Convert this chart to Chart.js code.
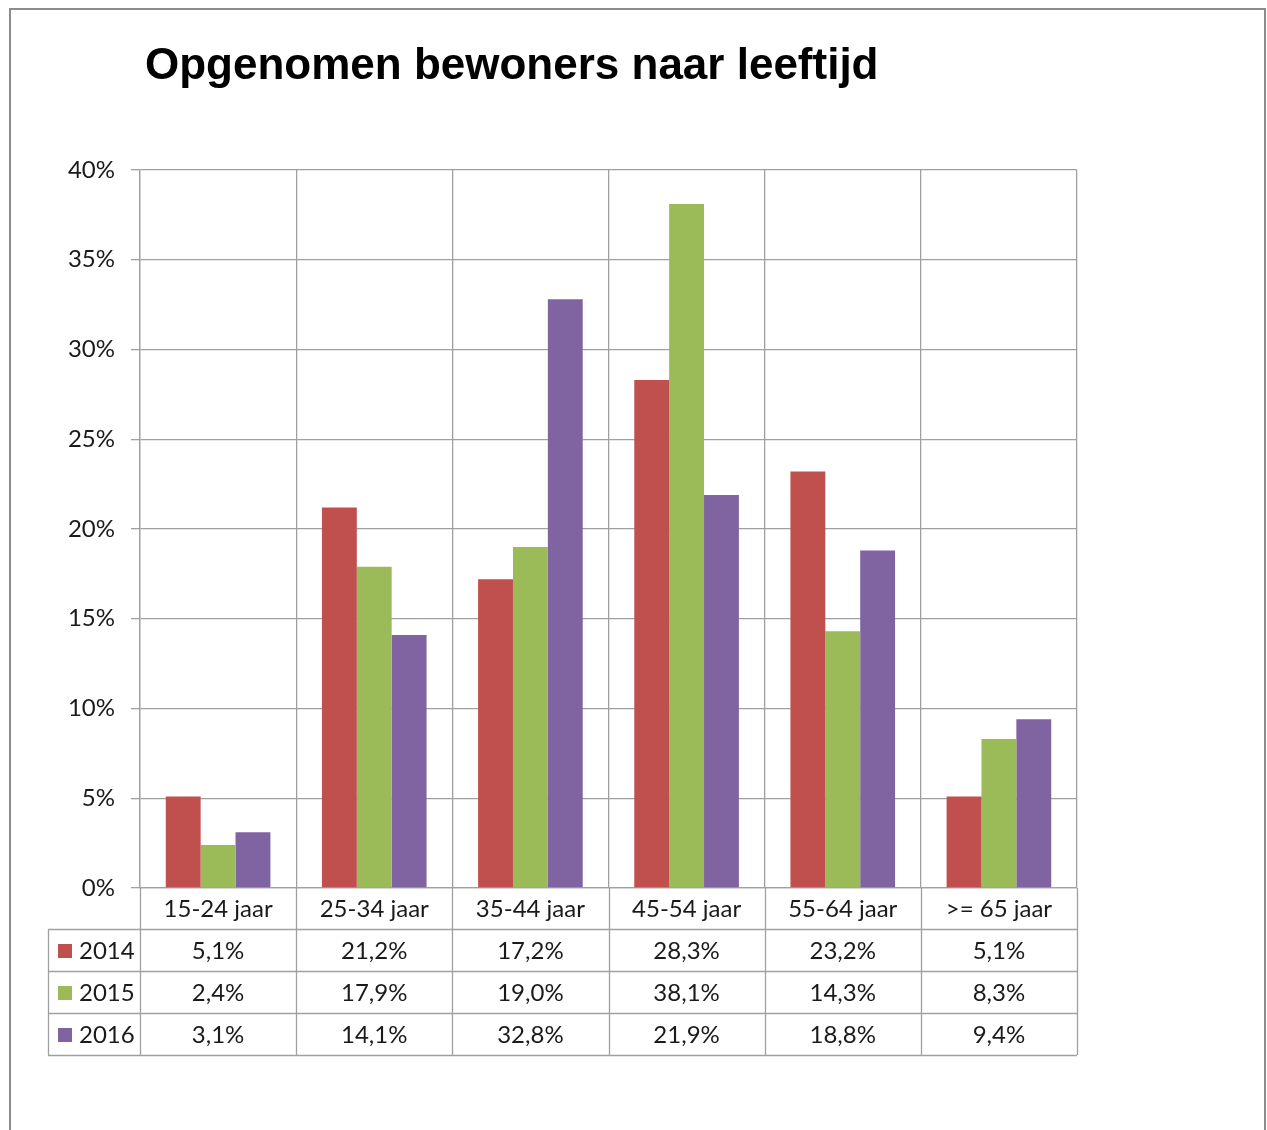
<!DOCTYPE html>
<html>
<head>
<meta charset="utf-8">
<script src="https://cdn.jsdelivr.net/npm/chart.js@4/dist/chart.umd.min.js"></script>
<style>
  html, body { margin: 0; padding: 0; background: #fff; }
  canvas { display: block; }
</style>
</head>
<body>
<canvas id="ageChart" width="1267" height="1130"></canvas>
<script>
const titleText = 'Opgenomen bewoners naar leeftijd';
const categories = ['15-24 jaar', '25-34 jaar', '35-44 jaar', '45-54 jaar', '55-64 jaar', '>= 65 jaar'];
const years = ['2014', '2015', '2016'];
const values2014 = [5.1, 21.2, 17.2, 28.3, 23.2, 5.1];
const values2015 = [2.4, 17.9, 19.0, 38.1, 14.3, 8.3];
const values2016 = [3.1, 14.1, 32.8, 21.9, 18.8, 9.4];
const colors = ['#c0504d', '#9bbb59', '#8064a2'];
const yMax = 40;
const yStep = 5;

const gridColor = '#a0a0a0';
const textFont = 'Lato, "Open Sans", sans-serif';
const formatPct = (v) => `${v.toFixed(1).replace('.', ',')}%`;

(() => {
  const series = [values2014, values2015, values2016];

  // draws frame, title and the data table under the plot
  const tablePlugin = {
    id: 'dataTable',
    afterDraw(chart) {
      const { ctx, chartArea, scales } = chart;
      const x = scales.x;
      const step = x.getPixelForValue(1) - x.getPixelForValue(0);
      const left = chartArea.left;
      const right = chartArea.right;
      const top = chartArea.bottom;
      const headerH = 41;
      const rowH = 42;
      const legendLeft = 48;
      const tableBottom = top + headerH + rowH * years.length;

      ctx.save();

      // outer frame
      ctx.strokeStyle = '#8c8c8c';
      ctx.lineWidth = 2;
      ctx.beginPath();
      ctx.moveTo(10, 1130);
      ctx.lineTo(10, 9);
      ctx.lineTo(1265, 9);
      ctx.lineTo(1265, 1130);
      ctx.stroke();

      // title
      ctx.fillStyle = '#000';
      ctx.font = 'bold 44px "Liberation Sans", Arial, sans-serif';
      ctx.textAlign = 'left';
      ctx.textBaseline = 'middle';
      ctx.fillText(titleText, 145, 67);

      // table lines
      ctx.strokeStyle = gridColor;
      ctx.lineWidth = 1.3;
      ctx.beginPath();
      for (let i = 0; i <= categories.length; i++) {
        const px = Math.round(left + step * i) + 0.5;
        ctx.moveTo(px, top);
        ctx.lineTo(px, tableBottom);
      }
      ctx.moveTo(legendLeft + 0.5, top + headerH);
      ctx.lineTo(legendLeft + 0.5, tableBottom);
      for (let r = 0; r <= years.length; r++) {
        const py = Math.round(top + headerH + rowH * r) + 0.5;
        ctx.moveTo(legendLeft, py);
        ctx.lineTo(right, py);
      }
      ctx.stroke();

      // header labels
      ctx.fillStyle = '#1a1a1a';
      ctx.font = `24px ${textFont}`;
      ctx.textAlign = 'center';
      categories.forEach((cat, i) => {
        ctx.fillText(cat, x.getPixelForValue(i), top + headerH / 2 + 1);
      });

      // rows
      years.forEach((year, r) => {
        const cy = top + headerH + rowH * r + rowH / 2 + 1;
        ctx.fillStyle = colors[r];
        ctx.fillRect(58, cy - 7, 14, 14);
        ctx.fillStyle = '#1a1a1a';
        ctx.textAlign = 'left';
        ctx.fillText(year, 79, cy);
        ctx.textAlign = 'center';
        series[r].forEach((v, i) => {
          ctx.fillText(formatPct(v), x.getPixelForValue(i), cy);
        });
      });

      ctx.restore();
    },
  };

  new Chart(document.getElementById('ageChart'), {
    type: 'bar',
    data: {
      labels: categories,
      datasets: years.map((year, i) => ({
        label: year,
        data: series[i],
        backgroundColor: colors[i],
        borderWidth: 0,
        categoryPercentage: 0.67,
        barPercentage: 1.0,
      })),
    },
    options: {
      responsive: false,
      animation: false,
      devicePixelRatio: 1,
      layout: { padding: { top: 170, right: 190, bottom: 242, left: 0 } },
      plugins: {
        legend: { display: false },
        title: { display: false },
        tooltip: { enabled: false },
      },
      scales: {
        x: {
          ticks: { display: false },
          grid: { color: gridColor, lineWidth: 1.3, drawTicks: false, offset: true },
          border: { color: gridColor, width: 1.3 },
          afterFit: (scale) => { scale.height = 0; },
        },
        y: {
          min: 0,
          max: yMax,
          ticks: {
            stepSize: yStep,
            padding: 16,
            color: '#1a1a1a',
            font: { family: textFont, size: 24 },
            callback: (value) => `${value}%`,
          },
          grid: { color: gridColor, lineWidth: 1.3, tickLength: 9 },
          border: { color: gridColor, width: 1.3 },
          afterFit: (scale) => { scale.width = 140; },
        },
      },
    },
    plugins: [tablePlugin],
  });
})();
</script>
</body>
</html>
